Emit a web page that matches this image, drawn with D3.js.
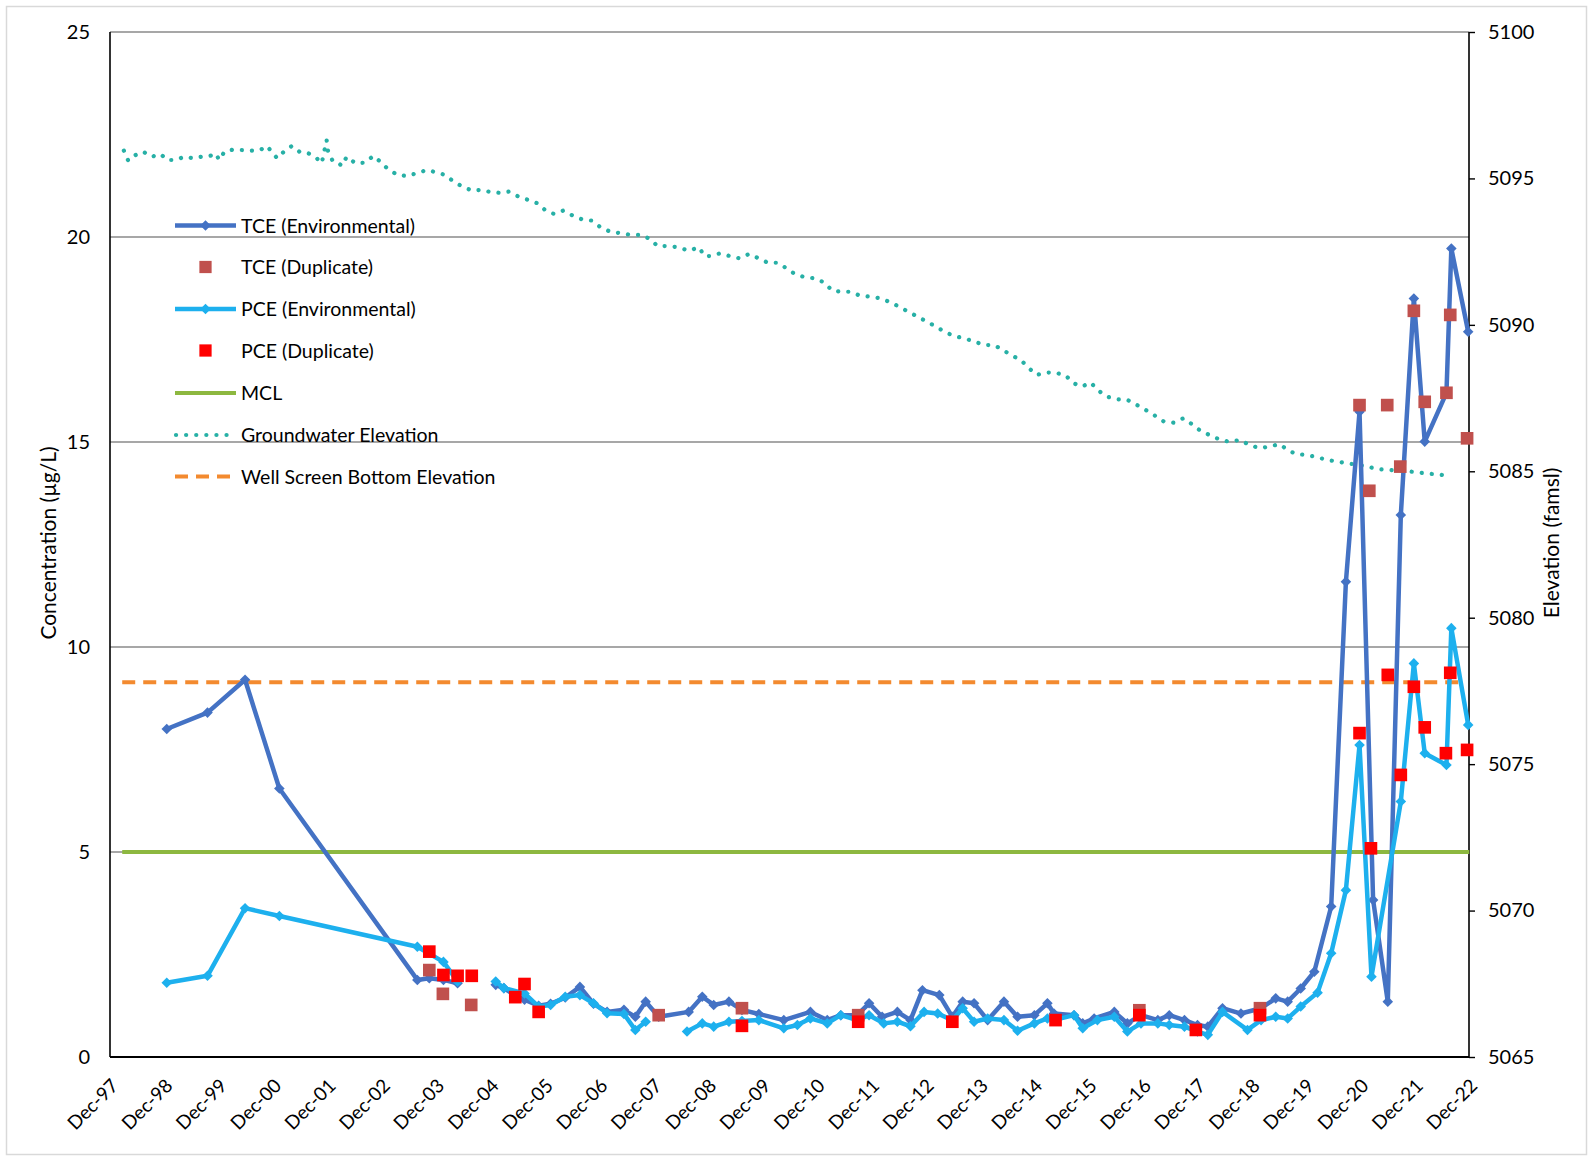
<!DOCTYPE html>
<html><head><meta charset="utf-8">
<script src="https://cdn.jsdelivr.net/npm/d3@7"></script>
<style>
body{margin:0;background:#fff;}
svg text{font-family:Lato,'Open Sans',sans-serif;fill:#000;}
</style>
</head><body>
<svg id="chart" width="1593" height="1159"></svg>
<script>
// ---------------- DATA (decimal year, value) ----------------
const xTickLabels = ["Dec-97","Dec-98","Dec-99","Dec-00","Dec-01","Dec-02","Dec-03","Dec-04","Dec-05","Dec-06","Dec-07","Dec-08","Dec-09","Dec-10","Dec-11","Dec-12","Dec-13","Dec-14","Dec-15","Dec-16","Dec-17","Dec-18","Dec-19","Dec-20","Dec-21","Dec-22"];
const leftTicks = [0,5,10,15,20,25];
const rightTicks = [5065,5070,5075,5080,5085,5090,5095,5100];

const tceEnv = [
 [1998.96,8.0],[1999.71,8.4],[2000.40,9.2],[2001.03,6.55],[2003.57,1.88],[2003.79,1.92],[2004.05,1.88],[2004.31,1.8],[2004.5,null],
 [2005.01,1.76],[2005.16,1.68],[2005.37,1.5],[2005.54,1.4],[2005.80,1.25],[2006.02,1.3],[2006.29,1.45],[2006.56,1.71],[2006.81,1.3],
 [2007.06,1.1],[2007.37,1.15],[2007.58,0.98],[2007.77,1.35],[2008.01,0.98],[2008.56,1.1],[2008.81,1.47],[2009.02,1.27],[2009.30,1.35],
 [2009.54,1.15],[2009.85,1.05],[2010.31,0.90],[2010.80,1.10],[2011.11,0.90],[2011.36,1.02],[2011.66,1.02],[2011.88,1.31],[2012.12,0.98],
 [2012.40,1.10],[2012.64,0.90],[2012.86,1.63],[2013.17,1.51],[2013.41,0.98],[2013.60,1.35],[2013.81,1.31],[2014.06,0.90],[2014.36,1.35],
 [2014.61,0.98],[2014.92,1.02],[2015.16,1.31],[2015.28,1.06],[2015.65,1.02],[2015.81,0.82],[2016.02,0.94],[2016.39,1.10],[2016.63,0.82],
 [2016.88,1.02],[2017.19,0.90],[2017.40,1.02],[2017.68,0.90],[2017.92,0.78],[2018.11,0.74],[2018.38,1.19],[2018.72,1.06],[2019.09,1.19],
 [2019.36,1.43],[2019.58,1.35],[2019.82,1.67],[2020.07,2.08],[2020.38,3.67],[2020.65,11.59],[2020.90,15.74],[2021.15,3.83],[2021.42,1.35],
 [2021.66,13.22],[2021.90,18.50],[2022.10,15.01],[2022.50,16.2],[2022.59,19.72],[2022.90,17.69]
];
const pceEnv = [
 [1998.96,1.81],[1999.71,1.98],[2000.40,3.63],[2001.03,3.44],[2003.57,2.69],[2004.05,2.32],[2004.31,1.84],[2004.5,null],
 [2005.01,1.84],[2005.16,1.68],[2005.54,1.55],[2005.80,1.23],[2006.02,1.27],[2006.29,1.47],[2006.56,1.51],[2006.81,1.31],[2007.06,1.07],
 [2007.37,1.05],[2007.58,0.66],[2007.77,0.86],[2008.2,null],[2008.53,0.62],[2008.81,0.82],[2009.02,0.74],[2009.30,0.86],[2009.54,0.88],
 [2009.85,0.90],[2010.31,0.70],[2010.56,0.78],[2010.80,0.94],[2011.11,0.82],[2011.36,1.02],[2011.66,0.90],[2011.88,1.02],[2012.15,0.82],
 [2012.40,0.86],[2012.64,0.75],[2012.89,1.10],[2013.14,1.06],[2013.41,0.90],[2013.60,1.19],[2013.81,0.86],[2014.06,0.94],[2014.36,0.90],
 [2014.61,0.64],[2014.92,0.82],[2015.16,0.94],[2015.28,0.90],[2015.65,1.02],[2015.81,0.70],[2016.08,0.90],[2016.39,0.98],[2016.63,0.62],
 [2016.88,0.82],[2017.19,0.82],[2017.40,0.78],[2017.68,0.74],[2017.92,0.62],[2018.11,0.54],[2018.38,1.10],[2018.84,0.66],[2019.09,0.90],
 [2019.36,0.98],[2019.58,0.94],[2019.82,1.23],[2020.13,1.57],[2020.38,2.53],[2020.65,4.07],[2020.90,7.61],[2021.12,1.96],[2021.66,6.23],
 [2021.90,9.60],[2022.10,7.41],[2022.50,7.12],[2022.59,10.46],[2022.90,8.10]
];
const tceDup = [
 [2003.79,2.12],[2004.04,1.54],[2004.56,1.27],[2008.01,1.02],[2009.54,1.19],[2011.68,1.02],[2016.85,1.14],[2019.07,1.19],
 [2020.90,15.90],[2021.08,13.81],[2021.41,15.90],[2021.65,14.40],[2021.90,18.20],[2022.10,15.98],[2022.50,16.20],[2022.57,18.10],[2022.88,15.09]
];
const pceDup = [
 [2003.79,2.57],[2004.05,2.0],[2004.31,1.98],[2004.57,1.98],[2005.37,1.46],[2005.54,1.78],[2005.80,1.10],[2009.54,0.76],[2011.68,0.86],
 [2013.41,0.86],[2015.31,0.90],[2016.85,1.02],[2017.89,0.66],[2019.07,1.02],[2020.90,7.90],[2021.11,5.09],[2021.42,9.32],[2021.66,6.88],
 [2021.90,9.03],[2022.10,8.04],[2022.49,7.41],[2022.57,9.37],[2022.88,7.49]
];
const mcl = [[1998.14,5],[2022.92,5]];
const wellScreenBottom = [[1998.14,5077.8],[2022.77,5077.8]];
const groundwater = [
 [1998.17,5095.95],[1998.25,5095.61],[1998.35,5095.77],[1998.53,5095.91],[1998.68,5095.74],[1998.85,5095.83],[1998.96,5095.63],
 [1999.13,5095.63],[1999.28,5095.74],[1999.45,5095.69],[1999.60,5095.74],[1999.76,5095.77],[1999.85,5095.86],[1999.93,5095.63],
 [2000.02,5095.91],[2000.19,5095.99],[2000.34,5095.97],[2000.53,5095.95],[2000.68,5095.97],[2000.80,5096.11],[2000.99,5095.69],
 [2001.11,5095.91],[2001.26,5096.11],[2001.40,5095.91],[2001.54,5095.88],[2001.69,5095.74],[2001.81,5095.52],[2001.90,5096.31],
 [2001.93,5095.88],[2002.02,5095.57],[2002.12,5095.52],[2002.18,5095.43],[2002.27,5095.74],[2002.43,5095.52],[2002.61,5095.54],
 [2002.76,5095.77],[2002.89,5095.57],[2003.01,5095.35],[2003.20,5095.12],[2003.38,5095.08],[2003.56,5095.18],[2003.75,5095.29],
 [2003.93,5095.20],[2004.08,5095.12],[2004.24,5094.89],[2004.42,5094.70],[2004.58,5094.58],[2004.73,5094.61],[2004.88,5094.55],
 [2005.07,5094.51],[2005.25,5094.55],[2005.43,5094.38],[2005.62,5094.26],[2005.78,5094.15],[2005.93,5093.90],[2006.08,5093.79],
 [2006.25,5093.90],[2006.44,5093.72],[2006.60,5093.60],[2006.78,5093.56],[2006.94,5093.33],[2007.12,5093.18],[2007.31,5093.13],
 [2007.50,5093.07],[2007.70,5093.07],[2007.86,5092.92],[2007.99,5092.69],[2008.18,5092.69],[2008.37,5092.65],[2008.56,5092.53],
 [2008.75,5092.65],[2008.85,5092.35],[2008.96,5092.35],[2009.13,5092.44],[2009.32,5092.35],[2009.50,5092.27],[2009.67,5092.42],
 [2009.85,5092.27],[2010.02,5092.12],[2010.20,5092.12],[2010.36,5091.93],[2010.51,5091.74],[2010.69,5091.63],[2010.88,5091.59],
 [2011.06,5091.44],[2011.20,5091.17],[2011.36,5091.13],[2011.54,5091.13],[2011.72,5090.99],[2011.92,5090.96],[2012.10,5090.90],
 [2012.30,5090.75],[2012.50,5090.55],[2012.70,5090.35],[2012.90,5090.15],[2013.10,5089.95],[2013.28,5089.75],[2013.44,5089.62],
 [2013.63,5089.54],[2013.81,5089.43],[2014.00,5089.31],[2014.18,5089.31],[2014.34,5089.14],[2014.52,5088.94],[2014.67,5088.80],
 [2014.82,5088.52],[2014.96,5088.29],[2015.13,5088.37],[2015.31,5088.37],[2015.50,5088.26],[2015.64,5088.01],[2015.79,5087.89],
 [2015.96,5088.03],[2016.08,5087.78],[2016.25,5087.55],[2016.45,5087.46],[2016.63,5087.44],[2016.80,5087.27],[2016.97,5087.09],
 [2017.12,5086.92],[2017.30,5086.70],[2017.48,5086.66],[2017.66,5086.81],[2017.81,5086.62],[2017.97,5086.39],[2018.14,5086.24],
 [2018.32,5086.09],[2018.50,5086.01],[2018.71,5086.07],[2018.87,5085.90],[2019.06,5085.79],[2019.24,5085.84],[2019.43,5085.93],
 [2019.58,5085.73],[2019.73,5085.59],[2019.93,5085.56],[2020.12,5085.48],[2020.30,5085.39],[2020.49,5085.33],[2020.68,5085.27],
 [2020.87,5085.22],[2021.05,5085.16],[2021.24,5085.07],[2021.42,5085.05],[2021.60,5085.02],[2021.84,5084.99],[2022.02,5084.95],
 [2022.22,5084.91],[2022.40,5084.88],[2022.59,5084.82]
];
const legendLabels = ["TCE (Environmental)","TCE (Duplicate)","PCE (Environmental)","PCE (Duplicate)","MCL","Groundwater Elevation","Well Screen Bottom Elevation"];

// ---------------- STYLE ----------------
const C = {tce:"#4472C4", pce:"#1DB0EE", tceDup:"#C0504D", pceDup:"#FF0000", mcl:"#8DB840", gw:"#27B0A6", well:"#F38A2F", grid:"#8A8A8A"};
const P = {l:110, r:1469, t:32, b:1057};

function toDate(y){
  const yr = Math.floor(y), s = new Date(yr,0,1), e = new Date(yr+1,0,1);
  return new Date(+s + (y-yr)*(e-s));
}

const svg = d3.select("#chart");
svg.append("rect").attr("x",6.5).attr("y",6.5).attr("width",1580).attr("height",1148)
   .attr("fill","#fff").attr("stroke","#d9d9d9").attr("stroke-width",1.5);

const x = d3.scaleTime().domain([new Date(1997,11,1), new Date(2022,11,1)]).range([P.l,P.r]);
const yL = d3.scaleLinear().domain([0,25]).range([P.b,P.t]);
const yR = d3.scaleLinear().domain([5065,5100]).range([P.b,P.t]);

// gridlines
svg.append("g").selectAll("line").data(leftTicks.filter(d=>d>0)).join("line")
  .attr("x1",P.l).attr("x2",P.r).attr("y1",d=>yL(d)).attr("y2",d=>yL(d))
  .attr("stroke",C.grid).attr("stroke-width",1.4);

// left axis
const gl = svg.append("g").attr("transform",`translate(${P.l},0)`)
  .call(d3.axisLeft(yL).tickValues(leftTicks).tickSize(0).tickPadding(20));
gl.select(".domain").remove();
gl.selectAll("text").style("font-size","20px").style("font-family","Lato,sans-serif").attr("fill","#000");

// right axis
const gr = svg.append("g").attr("transform",`translate(${P.r},0)`)
  .call(d3.axisRight(yR).tickValues(rightTicks).tickSize(6).tickPadding(13).tickFormat(d3.format("d")));
gr.select(".domain").remove();
gr.selectAll("line").attr("stroke","#000").attr("stroke-width",1.4);
gr.selectAll("text").style("font-size","20px").style("font-family","Lato,sans-serif").attr("fill","#000");

// bottom axis labels
const tickDates = xTickLabels.map((d,i)=>new Date(1997+i,11,1));
const gx = svg.append("g").attr("transform",`translate(0,${P.b})`)
  .call(d3.axisBottom(x).tickValues(tickDates).tickSize(0).tickFormat((d,i)=>xTickLabels[i]));
gx.select(".domain").remove();
gx.selectAll("text").style("font-size","19px").style("font-family","Lato,sans-serif").attr("fill","#000")
  .attr("text-anchor","end").attr("dy",null).attr("y",0)
  .attr("transform",d=>`translate(9,30) rotate(-45)`);

// axis lines
svg.append("line").attr("x1",P.l).attr("x2",P.l).attr("y1",P.t).attr("y2",P.b).attr("stroke","#000").attr("stroke-width",1.6);
svg.append("line").attr("x1",P.r).attr("x2",P.r).attr("y1",P.t).attr("y2",P.b).attr("stroke","#000").attr("stroke-width",1.6);
svg.append("line").attr("x1",P.l).attr("x2",P.r).attr("y1",P.b).attr("y2",P.b).attr("stroke","#000").attr("stroke-width",1.8);

// axis titles
svg.append("text").attr("transform",`translate(49,543) rotate(-90)`).attr("text-anchor","middle").attr("dy","0.35em")
  .style("font-size","21px").text("Concentration (µg/L)");
svg.append("text").attr("transform",`translate(1552,543) rotate(-90)`).attr("text-anchor","middle").attr("dy","0.35em")
  .style("font-size","21px").text("Elevation (famsl)");

const lineL = d3.line().defined(d=>d[1]!=null).x(d=>x(toDate(d[0]))).y(d=>yL(d[1]));
const lineR = d3.line().defined(d=>d[1]!=null).x(d=>x(toDate(d[0]))).y(d=>yR(d[1]));

// MCL
svg.append("path").datum(mcl).attr("d",lineL).attr("fill","none").attr("stroke",C.mcl).attr("stroke-width",4);
// Well screen bottom
svg.append("path").datum(wellScreenBottom).attr("d",lineR).attr("fill","none").attr("stroke",C.well)
  .attr("stroke-width",4).attr("stroke-dasharray","13 8");
// Groundwater
svg.append("path").datum(groundwater).attr("d",lineR).attr("fill","none").attr("stroke",C.gw)
  .attr("stroke-width",4.2).attr("stroke-linecap","round").attr("stroke-dasharray","0.1 10");

const diamond = d3.symbol(d3.symbolSquare,56)();
const square = d3.symbol(d3.symbolSquare,160)();

function series(data,color){
  svg.append("path").datum(data).attr("d",lineL).attr("fill","none").attr("stroke",color)
    .attr("stroke-width",4.5).attr("stroke-linejoin","round");
  svg.append("g").selectAll("path").data(data.filter(d=>d[1]!=null)).join("path").attr("d",diamond)
    .attr("transform",d=>`translate(${x(toDate(d[0]))},${yL(d[1])}) rotate(45)`).attr("fill",color);
}
series(tceEnv,C.tce);
series(pceEnv,C.pce);

svg.append("g").selectAll("path").data(tceDup).join("path").attr("d",square)
  .attr("transform",d=>`translate(${x(toDate(d[0]))},${yL(d[1])})`).attr("fill",C.tceDup);
svg.append("g").selectAll("path").data(pceDup).join("path").attr("d",square)
  .attr("transform",d=>`translate(${x(toDate(d[0]))},${yL(d[1])})`).attr("fill",C.pceDup);

// legend
const lg = svg.append("g");
const lgY = [225.5,267,309,350.5,393,435,476.5];
legendLabels.forEach((t,i)=>{
  const y = lgY[i];
  if(i===0||i===2){
    const c = i===0?C.tce:C.pce;
    lg.append("line").attr("x1",175).attr("x2",236).attr("y1",y).attr("y2",y).attr("stroke",c).attr("stroke-width",4.5);
    lg.append("path").attr("d",diamond).attr("transform",`translate(205.5,${y}) rotate(45)`).attr("fill",c);
  } else if(i===1||i===3){
    lg.append("path").attr("d",d3.symbol(d3.symbolSquare,150)()).attr("transform",`translate(205.5,${y})`).attr("fill",i===1?C.tceDup:C.pceDup);
  } else if(i===4){
    lg.append("line").attr("x1",175).attr("x2",236).attr("y1",y).attr("y2",y).attr("stroke",C.mcl).attr("stroke-width",4);
  } else if(i===5){
    lg.append("line").attr("x1",176).attr("x2",236).attr("y1",y).attr("y2",y).attr("stroke",C.gw).attr("stroke-width",4.2)
      .attr("stroke-linecap","round").attr("stroke-dasharray","0.1 10");
  } else {
    lg.append("line").attr("x1",175).attr("x2",236).attr("y1",y).attr("y2",y).attr("stroke",C.well).attr("stroke-width",4)
      .attr("stroke-dasharray","13 8");
  }
  lg.append("text").attr("x",241).attr("y",y).attr("dy","0.36em").style("font-size","19.5px").attr("fill","#404040").text(t);
});
</script>
</body></html>
